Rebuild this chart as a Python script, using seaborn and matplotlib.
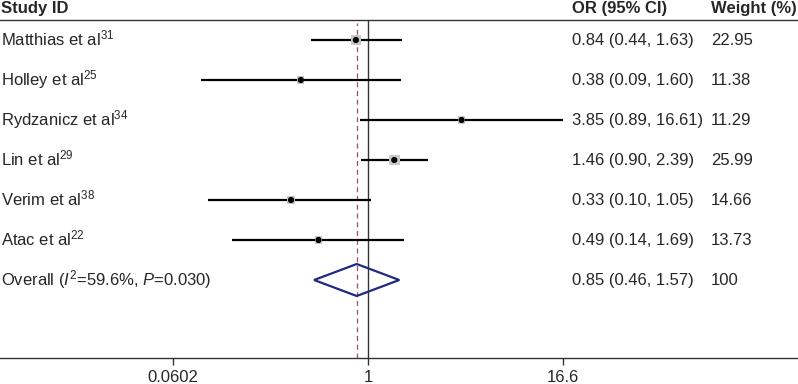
import numpy as np
import pandas as pd
import matplotlib
matplotlib.use("Agg")
import matplotlib.pyplot as plt
from matplotlib.patches import Polygon
import seaborn as sns

studies = ["Matthias et al$^{31}$", "Holley et al$^{25}$", "Rydzanicz et al$^{34}$",
           "Lin et al$^{29}$", "Verim et al$^{38}$", "Atac et al$^{22}$"]
odds = [0.84, 0.38, 3.85, 1.46, 0.33, 0.49]
lower = [0.44, 0.09, 0.89, 0.90, 0.10, 0.14]
upper = [1.63, 1.60, 16.61, 2.39, 1.05, 1.69]
weights = [22.95, 11.38, 11.29, 25.99, 14.66, 13.73]
or_text = ["0.84 (0.44, 1.63)", "0.38 (0.09, 1.60)", "3.85 (0.89, 16.61)",
           "1.46 (0.90, 2.39)", "0.33 (0.10, 1.05)", "0.49 (0.14, 1.69)"]
weight_text = ["22.95", "11.38", "11.29", "25.99", "14.66", "13.73"]

overall_label = "Overall ($I^{2}$=59.6%, $P$=0.030)"
overall_or = 0.85
overall_lower = 0.46
overall_upper = 1.57
overall_text = "0.85 (0.46, 1.57)"
overall_weight = "100"

xtick_vals = [0.0602, 1, 16.6]
xtick_labels = ["0.0602", "1", "16.6"]

sns.set_style("white")
plt.rcParams["font.family"] = ["Liberation Sans", "DejaVu Sans"]
plt.rcParams["mathtext.fontset"] = "custom"
plt.rcParams["mathtext.rm"] = "Liberation Sans"
plt.rcParams["mathtext.it"] = "Liberation Sans:italic"
plt.rcParams["mathtext.bf"] = "Liberation Sans:bold"

W, H = 798, 384
fig = plt.figure(figsize=(W / 100, H / 100), dpi=100)
top_px, bot_px = 20, 358
ax = fig.add_axes([0, (H - bot_px) / H, 1, (bot_px - top_px) / H])

df = pd.DataFrame({"study": studies, "or": odds, "lo": lower, "hi": upper,
                   "w": weights, "row": np.arange(len(studies))})

# axis scaling: 1 at x=368px, 69.4 px per ln unit
px1, k = 368, 69.4
ax.set_xscale("log")
ax.set_xlim(np.exp(-px1 / k), np.exp((W - px1) / k))
ax.set_ylim((bot_px - 40) / 40, (top_px - 40) / 40)

# reference lines
ax.axvline(1, color="#333333", lw=1.0, zorder=1)
ax.axvline(overall_or, ymax=0.99, color="#a0505a", lw=0.9, ls=(0, (4, 3)), zorder=1)

# CI lines
ax.hlines(df["row"], df["lo"], df["hi"], color="black", lw=1.6, zorder=2)

# weight squares
sns.scatterplot(data=df, x="or", y="row", size="w", sizes=(0, 62),
                size_norm=(0, 25.99), marker="s", color="#c8c8c8",
                edgecolor="none", legend=False, ax=ax, zorder=3)
# point estimates
sns.scatterplot(data=df, x="or", y="row", s=20, color="black",
                edgecolor="none", legend=False, ax=ax, zorder=4)

# overall diamond
orow = len(studies)
dh = 0.4
diamond = Polygon([(overall_lower, orow), (overall_or, orow - dh),
                   (overall_upper, orow), (overall_or, orow + dh)],
                  closed=True, fill=False, edgecolor="#1c2a80", lw=1.6, zorder=3)
ax.add_patch(diamond)

# spines and ticks
for s in ["left", "right"]:
    ax.spines[s].set_visible(False)
ax.spines["top"].set_color("#333333")
ax.spines["top"].set_linewidth(1.0)
ax.spines["bottom"].set_color("#333333")
ax.spines["bottom"].set_linewidth(1.0)
ax.set_xticks(xtick_vals)
ax.set_xticklabels(xtick_labels, fontsize=12)
ax.xaxis.set_minor_locator(matplotlib.ticker.NullLocator())
ax.tick_params(axis="x", direction="out", length=5, width=1, color="#333333",
               pad=4, bottom=True)
ax.set_yticks([])
ax.set_xlabel("")
ax.set_ylabel("")

# text columns
trans = matplotlib.transforms.blended_transform_factory(fig.transFigure, ax.transData)
x_study = 1 / W
x_or = 572 / W
x_w = 711 / W
off = 0.13
for i in range(len(studies)):
    ax.text(x_study, i + off, studies[i], transform=trans, va="baseline", ha="left", fontsize=12)
    ax.text(x_or, i + off, or_text[i], transform=trans, va="baseline", ha="left", fontsize=12)
    ax.text(x_w, i + off, weight_text[i], transform=trans, va="baseline", ha="left", fontsize=12)
ax.text(x_study, orow + off, overall_label, transform=trans, va="baseline", ha="left", fontsize=12)
ax.text(x_or, orow + off, overall_text, transform=trans, va="baseline", ha="left", fontsize=12)
ax.text(x_w, orow + off, overall_weight, transform=trans, va="baseline", ha="left", fontsize=12)

hy = 1 - 13 / H
fig.text(x_study, hy, "Study ID", fontweight="bold", fontsize=12, va="baseline", ha="left")
fig.text(x_or, hy, "OR (95% CI)", fontweight="bold", fontsize=12, va="baseline", ha="left")
fig.text(x_w, hy, "Weight (%)", fontweight="bold", fontsize=12, va="baseline", ha="left")

fig.savefig("out.png", dpi=100)
